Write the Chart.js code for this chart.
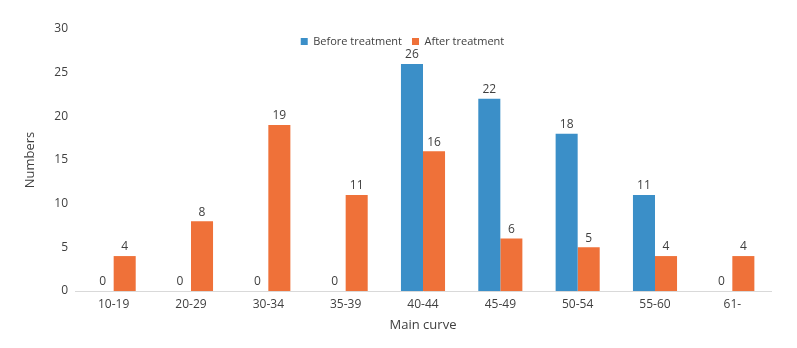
<!DOCTYPE html>
<html>
<head>
<meta charset="utf-8">
<script src="https://cdn.jsdelivr.net/npm/chart.js@4/dist/chart.umd.min.js"></script>
<style>
html,body{margin:0;padding:0;background:#fff;}
#wrap{width:797px;height:348px;position:relative;}
</style>
</head>
<body>
<div id="wrap"><canvas id="c" width="797" height="348"></canvas></div>
<script>
const categories = ['10-19','20-29','30-34','35-39','40-44','45-49','50-54','55-60','61-'];
const beforeTreatment = [0,0,0,0,26,22,18,11,0];
const afterTreatment = [4,8,19,11,16,6,5,4,4];
const seriesNames = ['Before treatment','After treatment'];
const yTicks = [0,5,10,15,20,25,30];

const textColor = '#404040';
const fontFamily = '"Open Sans", "DejaVu Sans", sans-serif';

const labelPlugin = {
  id: 'barLabels',
  afterLayout(chart) {
    const lg = chart.legend;
    if (lg) {
      lg.top = 26;
      lg.bottom = 60;
      lg.height = lg.bottom - lg.top;
      lg.left += 17;
      lg.right += 17;
    }
  },
  afterDatasetsDraw(chart) {
    const ctx = chart.ctx;
    ctx.save();
    ctx.font = '12px ' + fontFamily;
    ctx.fillStyle = textColor;
    ctx.textAlign = 'center';
    ctx.textBaseline = 'bottom';
    chart.data.datasets.forEach((ds, di) => {
      const meta = chart.getDatasetMeta(di);
      meta.data.forEach((el, i) => {
        ctx.fillText(String(ds.data[i]), el.x, el.y - 3);
      });
    });
    ctx.restore();
  }
};

new Chart(document.getElementById('c'), {
  type: 'bar',
  data: {
    labels: categories,
    datasets: [
      {label: seriesNames[0], data: beforeTreatment, backgroundColor: '#3b8fc8', categoryPercentage: 0.57, barPercentage: 1.0},
      {label: seriesNames[1], data: afterTreatment, backgroundColor: '#ef7139', categoryPercentage: 0.57, barPercentage: 1.0}
    ]
  },
  options: {
    responsive: false,
    animation: false,
    layout: {padding: {top: 29, right: 26, left: 0, bottom: 0}},
    plugins: {
      legend: {
        position: 'top',
        align: 'center',
        maxHeight: 0.001,
        labels: {boxWidth: 7, boxHeight: 7, padding: 10, color: textColor, font: {family: fontFamily, size: 11}}
      },
      tooltip: {enabled: false}
    },
    scales: {
      x: {
        grid: {display: false, drawTicks: false},
        border: {display: true, color: '#d9d9d9', width: 1},
        ticks: {color: textColor, padding: 6, font: {family: fontFamily, size: 12}},
        title: {display: true, text: 'Main curve', color: textColor, font: {family: fontFamily, size: 13}, padding: {top: 0, bottom: 15}},
        afterFit(s) { s.height = 57; }
      },
      y: {
        min: 0, max: 30,
        grid: {display: false, drawTicks: false},
        border: {display: false},
        afterBuildTicks(s) { s.ticks = yTicks.map(v => ({value: v})); },
        ticks: {color: textColor, padding: 7, font: {family: fontFamily, size: 12}},
        title: {display: true, text: 'Numbers', color: textColor, font: {family: fontFamily, size: 13}, padding: {top: 22, bottom: 0}},
        afterFit(s) { s.width = 75; }
      }
    }
  },
  plugins: [labelPlugin]
});
</script>
</body>
</html>
